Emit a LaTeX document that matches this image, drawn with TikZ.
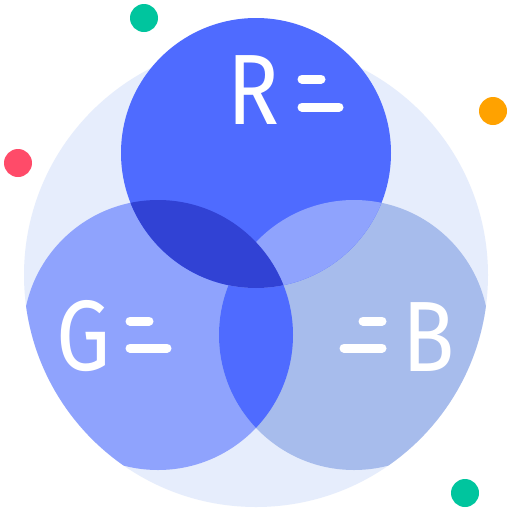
\documentclass[tikz,border=0pt]{standalone}
\usepackage{fontspec}
\setmainfont{Fira Sans}
\definecolor{bigc}{HTML}{E6EDFC}
\definecolor{rc}{HTML}{4F6BFF}
\definecolor{gc}{HTML}{8FA3FD}
\definecolor{bc}{HTML}{A7BCEC}
\definecolor{dk}{HTML}{3142D4}
\definecolor{dgreen}{HTML}{00C59E}
\definecolor{dred}{HTML}{FF4B69}
\definecolor{dorange}{HTML}{FFA200}
\tikzset{
  letter/.style={text=white, inner sep=0pt, anchor=base, xscale=0.86, font=\fontsize{100}{100}\selectfont},
  bar/.style={draw=white, line width=9pt, line cap=round},
  dot/.style={circle, minimum size=28pt, inner sep=0pt}
}
\begin{document}
\begin{tikzpicture}[x=1pt,y=-1pt]
\useasboundingbox (0,0) rectangle (512,512);
\fill[white] (0,0) rectangle (512,512);
\def\bigcirc{(256,275) circle[radius=232]}
\def\rcirc{(256,153) circle[radius=135]}
\def\gcirc{(158,335) circle[radius=135]}
\def\bcirc{(354,335) circle[radius=135]}
\fill[bigc] \bigcirc;
\begin{scope}
  \clip \bigcirc;
  \fill[gc] \gcirc;
  \fill[bc] \bcirc;
  \begin{scope}
    \clip \gcirc;
    \fill[rc] \bcirc;
  \end{scope}
\end{scope}
\fill[rc] \rcirc;
\begin{scope}
  \clip \rcirc;
  \fill[gc] \bcirc;
  \fill[dk] \gcirc;
\end{scope}
% letters
\node[letter] (r) at (254,124) {R};
\node[letter] (g) at (84,370) {G};
\node[letter] (b) at (429,371) {B};
% bars
\draw[bar] (302,79) -- (321,79);
\draw[bar] (302,107) -- (339,107);
\draw[bar] (130,321) -- (149,321);
\draw[bar] (130,348) -- (167,348);
\draw[bar] (363,321) -- (382,321);
\draw[bar] (344,348) -- (382,348);
% dots
\node[dot, fill=dgreen] (d1) at (144,18) {};
\node[dot, fill=dred] (d2) at (18,163) {};
\node[dot, fill=dorange] (d3) at (493,111) {};
\node[dot, fill=dgreen] (d4) at (465,493) {};
\end{tikzpicture}
\end{document}
